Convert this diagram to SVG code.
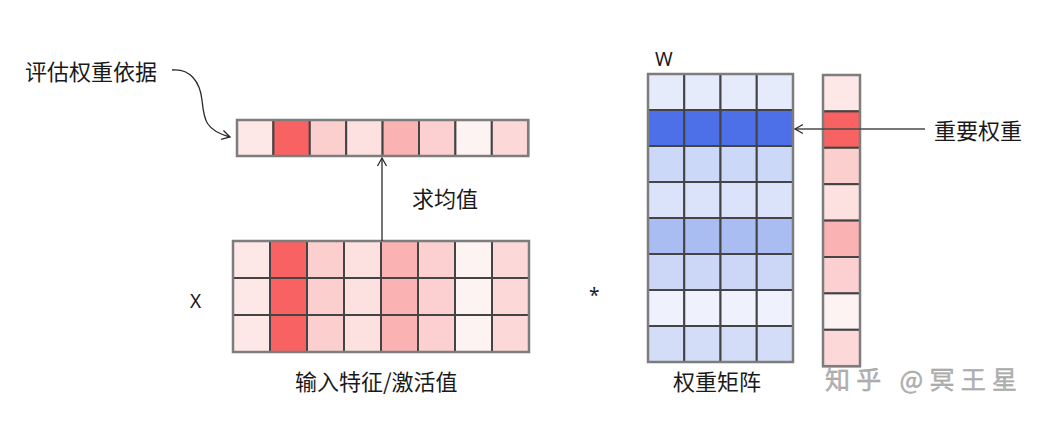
<svg xmlns="http://www.w3.org/2000/svg" width="1045" height="427" viewBox="0 0 1045 427">
<style>
  .t { font-family: "Noto Sans CJK SC", "Noto Sans", sans-serif; font-size: 22px; fill: #1a1a1a; }
  .lat { font-family: "Noto Sans", "Liberation Sans", sans-serif; font-size: 19px; fill: #1a1a1a; }
  .wm { font-family: "Noto Sans CJK SC", sans-serif; font-size: 25px; fill: #b4b4b4; stroke: #9a9a9a; stroke-width: 0.4; }
  .cell { stroke: #444444; stroke-width: 2; }
  .outer { fill: none; stroke: #7d7d7d; stroke-width: 2.5; }
  .conn { fill: none; stroke: #2b2b2b; stroke-width: 1.3; }
  .conn2 { fill: none; stroke: #4a4a4a; stroke-width: 1.6; }
  .r1 { fill: #fde7e7; } .r2 { fill: #f96262; } .r3 { fill: #fccfcf; } .r4 { fill: #fde1e1; }
  .r5 { fill: #fbb2b2; } .r6 { fill: #fcd0d0; } .r7 { fill: #fef3f3; } .r8 { fill: #fcd8d8; }
  .b1 { fill: #e6ebfb; } .b2 { fill: #4d70e8; } .b3 { fill: #ccd8f7; } .b4 { fill: #dbe3fa; }
  .b5 { fill: #a9bdf3; } .b6 { fill: #ccd7f7; } .b7 { fill: #eff2fd; } .b8 { fill: #d3ddf8; }
</style>
<defs>
  <marker id="chev" markerWidth="12" markerHeight="12" refX="10" refY="6" orient="auto" markerUnits="userSpaceOnUse">
    <path d="M2,1.5 L10,6 L2,10.5" fill="none" stroke="#2b2b2b" stroke-width="1.3"/>
  </marker>
</defs>
<rect width="1045" height="427" fill="#ffffff"/>

<g id="label-eval"><text class="t" x="25" y="80">评估权重依据</text></g>

<g id="row-mean">
  <rect class="cell r1" x="237" y="120" width="36.4" height="36"/>
  <rect class="cell r2" x="273.4" y="120" width="36.4" height="36"/>
  <rect class="cell r3" x="309.8" y="120" width="36.4" height="36"/>
  <rect class="cell r4" x="346.2" y="120" width="36.4" height="36"/>
  <rect class="cell r5" x="382.6" y="120" width="36.4" height="36"/>
  <rect class="cell r6" x="419" y="120" width="36.4" height="36"/>
  <rect class="cell r7" x="455.4" y="120" width="36.4" height="36"/>
  <rect class="cell r8" x="491.8" y="120" width="36.4" height="36"/>
  <rect class="outer" x="237" y="120" width="291.2" height="36"/>
</g>

<g id="label-mean"><text class="t" x="412" y="207">求均值</text></g>

<g id="matrix-x">
  <g>
    <rect class="cell r1" x="233" y="241" width="37" height="37"/>
    <rect class="cell r2" x="270" y="241" width="37" height="37"/>
    <rect class="cell r3" x="307" y="241" width="37" height="37"/>
    <rect class="cell r4" x="344" y="241" width="37" height="37"/>
    <rect class="cell r5" x="381" y="241" width="37" height="37"/>
    <rect class="cell r6" x="418" y="241" width="37" height="37"/>
    <rect class="cell r7" x="455" y="241" width="37" height="37"/>
    <rect class="cell r8" x="492" y="241" width="37" height="37"/>
  </g>
  <g>
    <rect class="cell r1" x="233" y="278" width="37" height="37"/>
    <rect class="cell r2" x="270" y="278" width="37" height="37"/>
    <rect class="cell r3" x="307" y="278" width="37" height="37"/>
    <rect class="cell r4" x="344" y="278" width="37" height="37"/>
    <rect class="cell r5" x="381" y="278" width="37" height="37"/>
    <rect class="cell r6" x="418" y="278" width="37" height="37"/>
    <rect class="cell r7" x="455" y="278" width="37" height="37"/>
    <rect class="cell r8" x="492" y="278" width="37" height="37"/>
  </g>
  <g>
    <rect class="cell r1" x="233" y="315" width="37" height="37"/>
    <rect class="cell r2" x="270" y="315" width="37" height="37"/>
    <rect class="cell r3" x="307" y="315" width="37" height="37"/>
    <rect class="cell r4" x="344" y="315" width="37" height="37"/>
    <rect class="cell r5" x="381" y="315" width="37" height="37"/>
    <rect class="cell r6" x="418" y="315" width="37" height="37"/>
    <rect class="cell r7" x="455" y="315" width="37" height="37"/>
    <rect class="cell r8" x="492" y="315" width="37" height="37"/>
  </g>
  <rect class="outer" x="233" y="241" width="296" height="111"/>
</g>

<g id="label-x"><text class="lat" x="190" y="308">X</text></g>
<g id="label-input"><text class="t" x="295" y="390">输入特征/激活值</text></g>

<g id="star"><text class="lat" x="589" y="302">*</text></g>

<g id="label-w"><text class="lat" x="655" y="66">W</text></g>

<g id="matrix-w">
  <g class="b1">
    <rect class="cell" x="648" y="74" width="36.25" height="36"/><rect class="cell" x="684.25" y="74" width="36.25" height="36"/><rect class="cell" x="720.5" y="74" width="36.25" height="36"/><rect class="cell" x="756.75" y="74" width="36.25" height="36"/>
  </g>
  <g class="b2">
    <rect class="cell" x="648" y="110" width="36.25" height="36"/><rect class="cell" x="684.25" y="110" width="36.25" height="36"/><rect class="cell" x="720.5" y="110" width="36.25" height="36"/><rect class="cell" x="756.75" y="110" width="36.25" height="36"/>
  </g>
  <g class="b3">
    <rect class="cell" x="648" y="146" width="36.25" height="36"/><rect class="cell" x="684.25" y="146" width="36.25" height="36"/><rect class="cell" x="720.5" y="146" width="36.25" height="36"/><rect class="cell" x="756.75" y="146" width="36.25" height="36"/>
  </g>
  <g class="b4">
    <rect class="cell" x="648" y="182" width="36.25" height="36"/><rect class="cell" x="684.25" y="182" width="36.25" height="36"/><rect class="cell" x="720.5" y="182" width="36.25" height="36"/><rect class="cell" x="756.75" y="182" width="36.25" height="36"/>
  </g>
  <g class="b5">
    <rect class="cell" x="648" y="218" width="36.25" height="36"/><rect class="cell" x="684.25" y="218" width="36.25" height="36"/><rect class="cell" x="720.5" y="218" width="36.25" height="36"/><rect class="cell" x="756.75" y="218" width="36.25" height="36"/>
  </g>
  <g class="b6">
    <rect class="cell" x="648" y="254" width="36.25" height="36"/><rect class="cell" x="684.25" y="254" width="36.25" height="36"/><rect class="cell" x="720.5" y="254" width="36.25" height="36"/><rect class="cell" x="756.75" y="254" width="36.25" height="36"/>
  </g>
  <g class="b7">
    <rect class="cell" x="648" y="290" width="36.25" height="36"/><rect class="cell" x="684.25" y="290" width="36.25" height="36"/><rect class="cell" x="720.5" y="290" width="36.25" height="36"/><rect class="cell" x="756.75" y="290" width="36.25" height="36"/>
  </g>
  <g class="b8">
    <rect class="cell" x="648" y="326" width="36.25" height="36"/><rect class="cell" x="684.25" y="326" width="36.25" height="36"/><rect class="cell" x="720.5" y="326" width="36.25" height="36"/><rect class="cell" x="756.75" y="326" width="36.25" height="36"/>
  </g>
  <rect class="outer" x="648" y="74" width="145" height="288"/>
</g>

<g id="label-weight-matrix"><text class="t" x="673" y="390">权重矩阵</text></g>

<g id="col-importance">
  <rect class="cell r1" x="823" y="75" width="37" height="36.4"/>
  <rect class="cell r2" x="823" y="111.4" width="37" height="36.4"/>
  <rect class="cell r3" x="823" y="147.8" width="37" height="36.4"/>
  <rect class="cell r4" x="823" y="184.2" width="37" height="36.4"/>
  <rect class="cell r5" x="823" y="220.6" width="37" height="36.4"/>
  <rect class="cell r6" x="823" y="257" width="37" height="36.4"/>
  <rect class="cell r7" x="823" y="293.4" width="37" height="36.4"/>
  <rect class="cell r8" x="823" y="329.8" width="37" height="36.4"/>
  <rect class="outer" x="823" y="75" width="37" height="291.2"/>
</g>

<g id="label-important"><text class="t" x="934" y="139">重要权重</text></g>

<g id="connectors">
  <path class="conn" d="M172,70 C190,68 200,82 202,100 C204,118 204,130 230,137" marker-end="url(#chev)"/>
  <path class="conn" d="M382,241 L382,158" marker-end="url(#chev)"/>
  <path class="conn2" d="M925,129 L795,129" marker-end="url(#chev)"/>
</g>

<g id="watermark"><text class="wm" x="825" y="389" textLength="192" lengthAdjust="spacing">知乎 @冥王星</text></g>
</svg>
